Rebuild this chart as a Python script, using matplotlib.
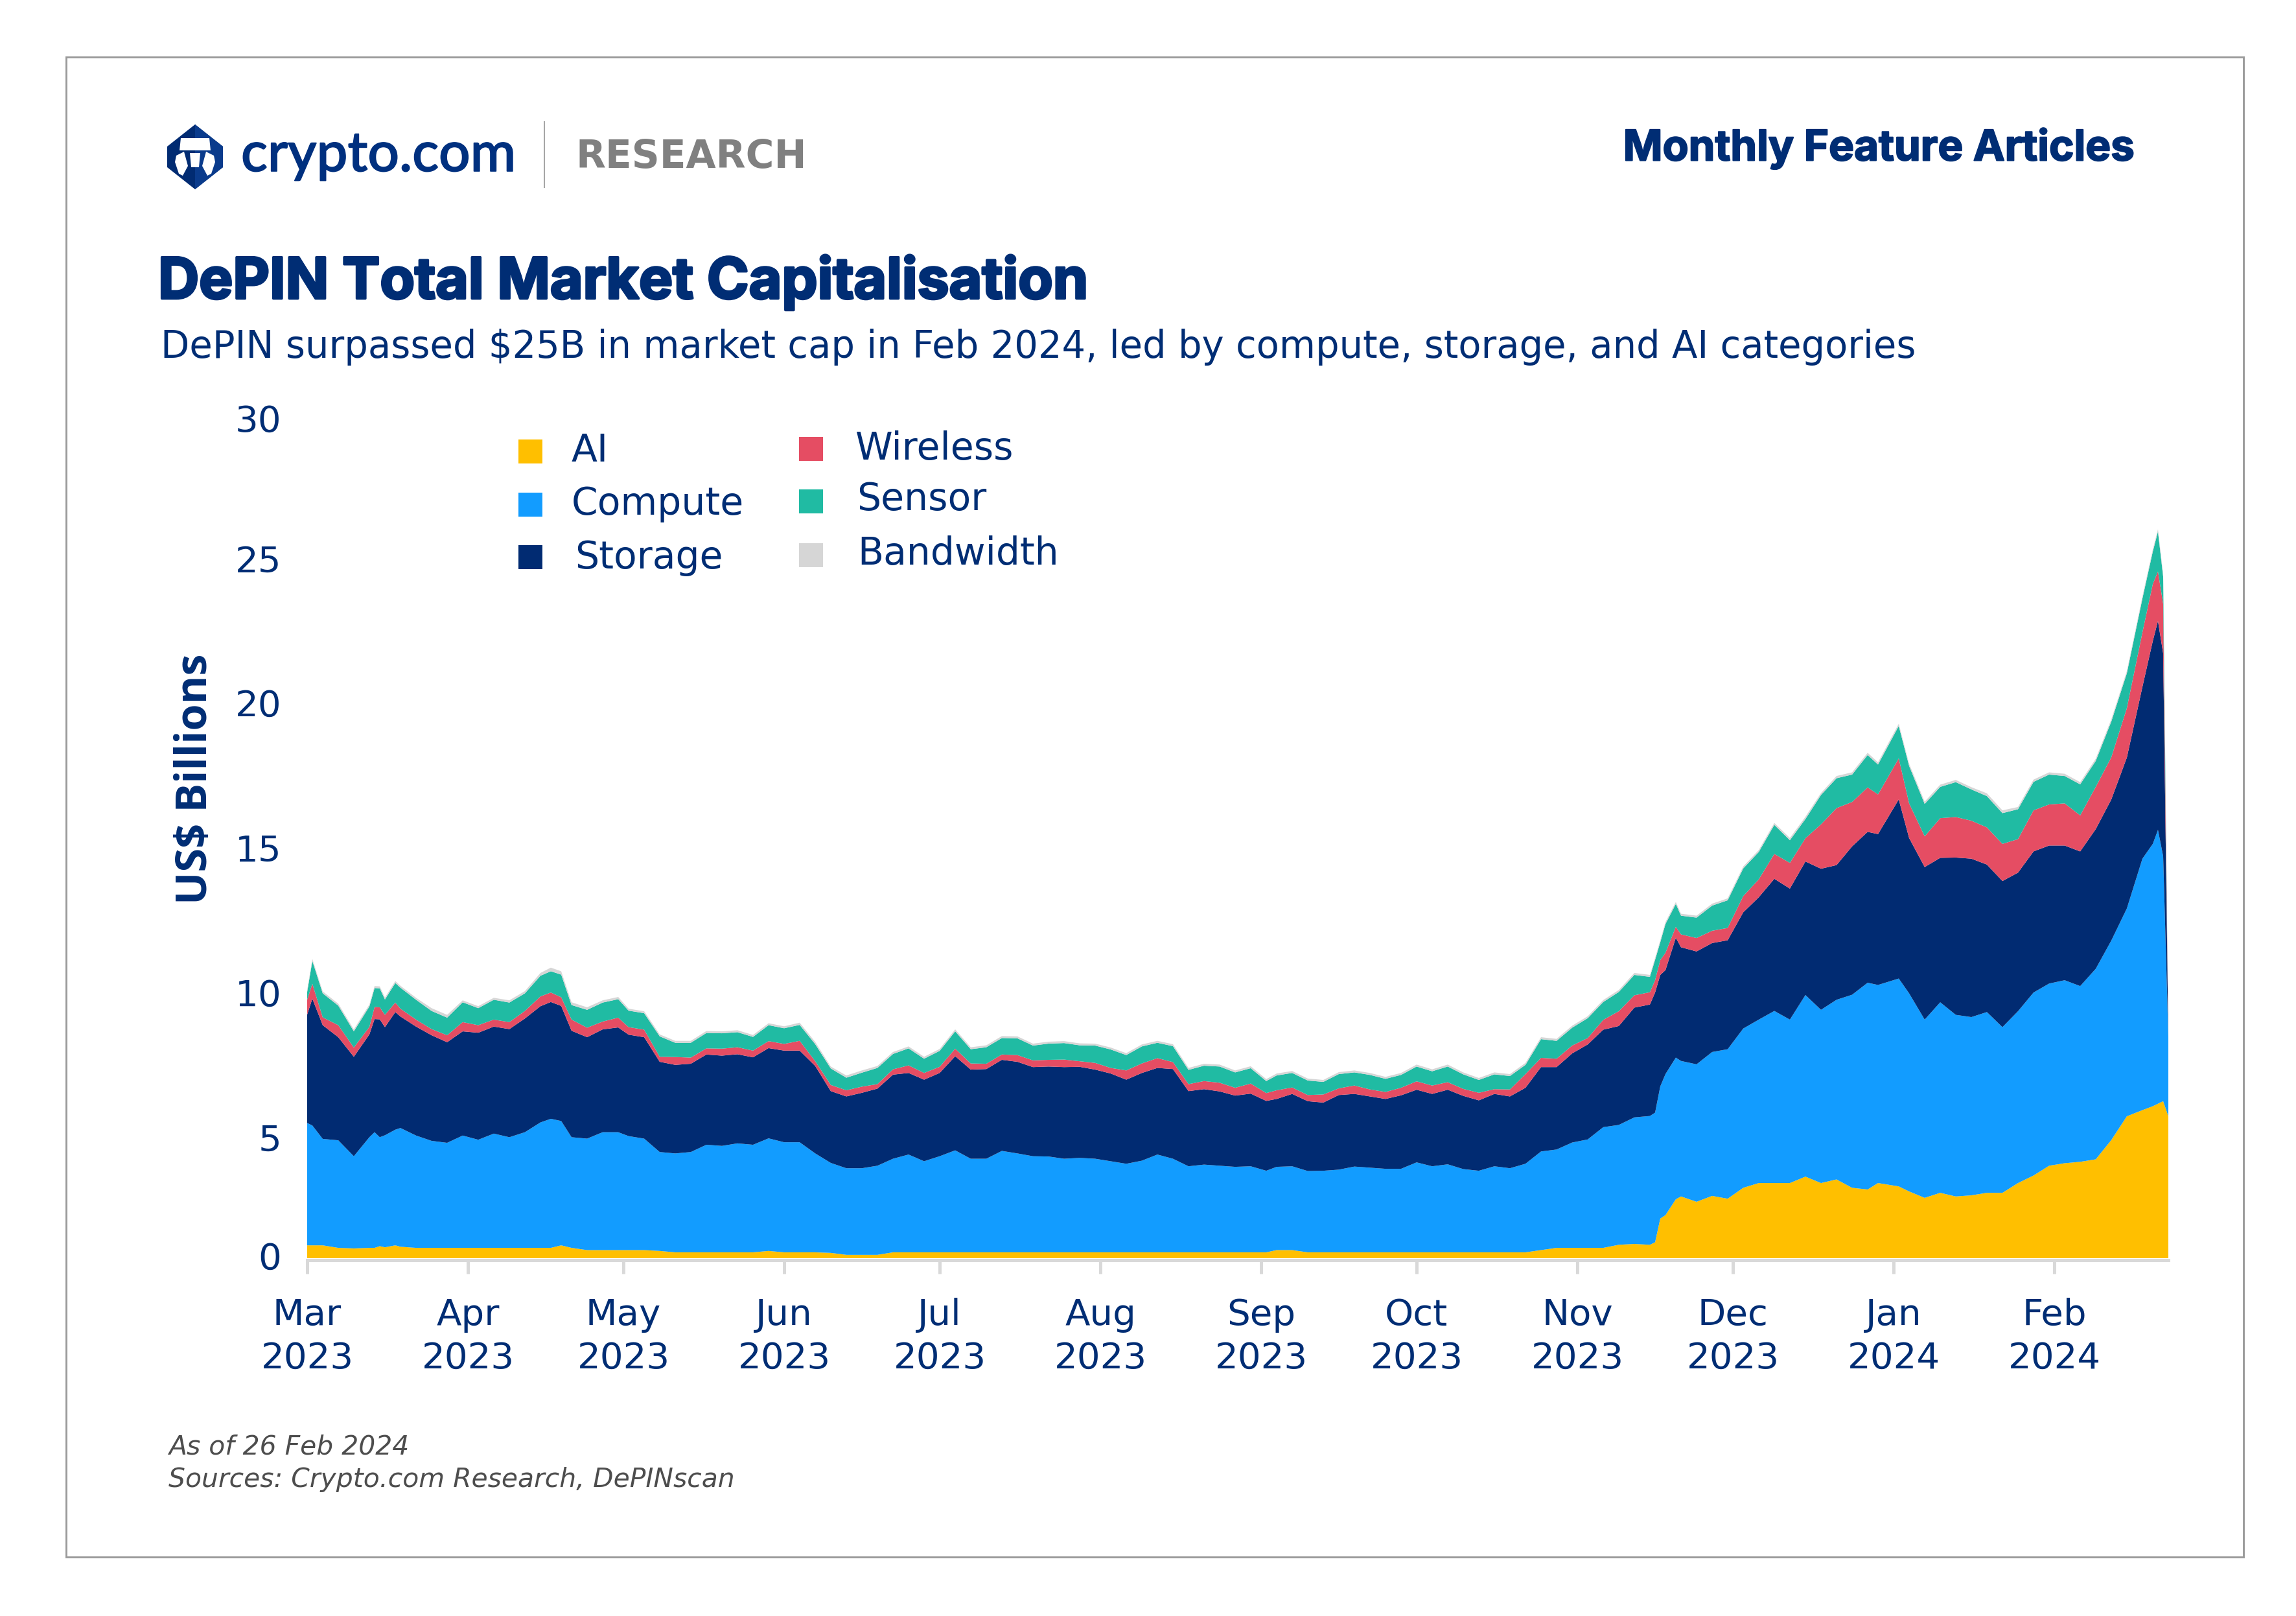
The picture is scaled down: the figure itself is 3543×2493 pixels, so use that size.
import pandas as pd
import matplotlib
matplotlib.use('Agg')
import matplotlib.pyplot as plt
from matplotlib.patches import Rectangle, Polygon
from matplotlib import patheffects

W, H = 3543, 2493
NAVY = '#002D74'

series_names = ['AI', 'Compute', 'Storage', 'Wireless', 'Sensor', 'Bandwidth']
series_colors = ['#FFBF00', '#129CFF', '#012B72', '#E54D63', '#20BBA3', '#D6D6D6']

# days since 1 Mar 2023
day_offset = [0, 1, 3, 6, 9, 12, 13, 14, 15, 17, 18, 21, 24, 27, 30, 33, 36, 39, 42, 45, 47, 49, 51, 54,
              57, 60, 62, 65, 68, 71, 74, 77, 80, 83, 86, 89, 92, 95, 98, 101, 104, 107, 110, 113,
              116, 119, 122, 125, 128, 131, 134, 137, 140, 143, 146, 149, 152, 155, 158, 161,
              164, 167, 170, 173, 176, 179, 182, 185, 187, 190, 193, 196, 199, 202, 205, 208,
              211, 214, 217, 220, 223, 226, 229, 232, 235, 238, 241, 244, 247, 250, 253, 256,
              259, 260, 261, 262, 264, 265, 268, 271, 274, 277, 280, 283, 286, 289, 292, 295, 298, 301, 303,
              307, 309, 312, 315, 318, 321, 324, 327, 330, 333, 336, 339, 342, 345, 348, 351,
              354, 356, 357, 358, 359]

ai = [.46, .46, .46, .37, .35, .37, .37, .43, .39, .46, .41, .37, .37, .37, .37, .37, .37, .37, .37, .37, .37, .46, .37, .29,
      .29, .29, .29, .29, .26, .21, .21, .21, .21, .21, .21, .26, .21, .21, .21, .19, .12, .12, .12, .21,
      .21, .21, .21, .21, .21, .21, .21, .21, .21, .21, .21, .21, .21, .21, .21, .21,
      .21, .21, .21, .21, .21, .21, .21, .21, .29, .29, .21, .21, .21, .21, .21, .21,
      .21, .21, .21, .21, .21, .21, .21, .21, .21, .29, .37, .37, .37, .37, .48, .51,
      .48, .57, 1.42, 1.54, 2.11, 2.21, 2.02, 2.23, 2.13, 2.52, 2.69, 2.69, 2.69, 2.92, 2.69, 2.82, 2.52, 2.46, 2.69,
      2.57, 2.39, 2.16, 2.34, 2.21, 2.25, 2.34, 2.34, 2.69, 2.96, 3.31, 3.40, 3.45, 3.54, 4.23, 5.08,
      5.30, 5.44, 5.53, 5.62, 5.08]
compute = [4.38, 4.29, 3.81, 3.85, 3.30, 3.96, 4.14, 3.90, 4.01, 4.14, 4.25, 4.02, 3.83, 3.76, 4.02, 3.87, 4.09, 3.96, 4.14, 4.49, 4.62, 4.45, 3.96, 3.99,
           4.22, 4.22, 4.08, 3.99, 3.54, 3.54, 3.59, 3.85, 3.81, 3.90, 3.85, 4.03, 3.94, 3.94, 3.54, 3.22, 3.10, 3.10, 3.19, 3.35,
           3.50, 3.26, 3.44, 3.65, 3.35, 3.35, 3.63, 3.54, 3.44, 3.43, 3.35, 3.38, 3.35, 3.26, 3.17, 3.28,
           3.50, 3.35, 3.08, 3.14, 3.10, 3.06, 3.08, 2.92, 2.98, 3.00, 2.91, 2.92, 2.96, 3.07, 3.03, 2.99,
           2.99, 3.22, 3.08, 3.15, 2.98, 2.92, 3.08, 3.01, 3.17, 3.53, 3.52, 3.77, 3.88, 4.32, 4.29, 4.53,
           4.61, 4.64, 4.73, 5.05, 5.07, 4.85, 4.92, 5.15, 5.35, 5.70, 5.85, 6.16, 5.85, 6.50, 6.20, 6.43, 6.91, 7.40, 7.09,
           7.44, 7.09, 6.38, 6.82, 6.50, 6.38, 6.47, 5.93, 6.15, 6.55, 6.52, 6.55, 6.29, 6.82, 7.14, 7.44,
           9.00, 9.39, 9.80, 8.77, 2.83]
storage = [3.88, 4.54, 4.07, 3.69, 3.56, 3.68, 4.05, 4.22, 3.87, 4.21, 3.99, 3.90, 3.78, 3.60, 3.73, 3.83, 3.83, 3.87, 4.07, 4.16, 4.18, 4.12, 3.81, 3.63,
           3.68, 3.75, 3.63, 3.63, 3.23, 3.17, 3.16, 3.23, 3.23, 3.19, 3.13, 3.23, 3.28, 3.28, 3.13, 2.57, 2.57, 2.70, 2.76, 3.01,
           2.92, 2.92, 2.98, 3.37, 3.19, 3.21, 3.26, 3.28, 3.19, 3.22, 3.28, 3.26, 3.19, 3.14, 3.01, 3.14,
           3.10, 3.21, 2.69, 2.70, 2.66, 2.55, 2.60, 2.50, 2.43, 2.59, 2.50, 2.44, 2.67, 2.60, 2.55, 2.50,
           2.63, 2.60, 2.59, 2.67, 2.62, 2.52, 2.59, 2.57, 2.72, 3.02, 2.95, 3.19, 3.40, 3.49, 3.54, 3.93,
           3.99, 4.30, 3.99, 3.72, 4.29, 4.07, 4.04, 3.90, 3.90, 4.16, 4.38, 4.73, 4.69, 4.78, 5.05, 4.82, 5.31, 5.40, 5.40,
           6.41, 5.56, 5.46, 5.17, 5.63, 5.67, 5.28, 5.23, 4.96, 5.05, 4.94, 4.82, 4.82, 5.00, 5.05, 5.40,
           6.15, 7.26, 7.48, 7.26, .02]
wireless = [.53, .53, .28, .43, .33, .27, .43, .43, .44, .34, .28, .25, .22, .25, .33, .27, .25, .25, .27, .35, .34, .31, .40, .34,
            .28, .35, .27, .27, .18, .28, .22, .22, .25, .25, .24, .25, .24, .35, .17, .22, .22, .22, .16, .19,
            .27, .24, .22, .27, .22, .19, .19, .24, .24, .24, .27, .20, .24, .20, .33, .34,
            .35, .25, .25, .29, .31, .28, .36, .28, .31, .23, .22, .29, .24, .30, .25, .25,
            .27, .30, .30, .27, .25, .27, .17, .25, .49, .33, .30, .28, .23, .35, .53, .44,
            .44, .44, .53, .62, .39, .46, .48, .44, .44, .58, .64, .89, .92, .83, 1.59, 2.04, 1.59, 1.59, 1.42,
            1.47, 1.24, 1.10, 1.42, 1.45, 1.36, 1.33, 1.33, 1.20, 1.47, 1.47, 1.51, 1.29, 1.51, 1.51, 1.77,
            1.95, 2.04, 1.77, 1.77, .01]
sensor = [.28, .82, .86, .70, .58, .73, .68, .68, .55, .70, .75, .71, .65, .63, .71, .61, .71, .70, .63, .74, .76, .81, .52, .64,
          .68, .66, .59, .59, .73, .51, .53, .55, .55, .54, .49, .57, .56, .57, .61, .59, .45, .50, .58, .55,
          .61, .51, .57, .62, .51, .59, .59, .60, .53, .58, .59, .57, .62, .66, .55, .61,
          .55, .57, .51, .55, .58, .55, .55, .43, .53, .52, .52, .45, .51, .47, .52, .47,
          .46, .53, .51, .56, .52, .46, .53, .48, .33, .67, .64, .64, .71, .64, .69, .73,
          .55, .73, .64, 1.03, .82, .67, .73, .90, .99, .99, .98, 1.04, .81, .69, 1.05, 1.07, .98, 1.16, 1.07,
          1.16, 1.34, 1.16, 1.12, 1.25, 1.12, 1.12, 1.10, 1.07, 1.02, 1.07, .98, 1.11, .93, 1.28, 1.25,
          1.21, 1.16, 1.43, .98, .01]
bandwidth = [.07, .07, .07, .07, .07, .07, .07, .07, .07, .07, .07, .07, .10, .10, .07, .07, .07, .08, .08, .10, .13, .12, .10, .09,
             .08, .08, .07, .07, .07, .07, .07, .07, .07, .07, .07, .07, .07, .08, .08, .07, .08, .08, .07, .07,
             .07, .07, .07, .07, .07, .07, .07, .07, .07, .07, .07, .07, .07, .07, .07, .07,
             .07, .07, .07, .07, .07, .07, .07, .07, .07, .07, .07, .07, .07, .07, .07, .07,
             .07, .07, .07, .07, .07, .07, .07, .07, .07, .07, .07, .07, .07, .07, .07, .07,
             .07, .07, .07, .07, .07, .07, .07, .07, .07, .07, .07, .07, .08, .08, .07, .08, .08, .08, .08,
             .08, .08, .08, .08, .08, .08, .10, .10, .08, .08, .08, .08, .08, .08, .08, .08,
             .08, .08, .08, .08, 0]

ytick_labels = ['0', '5', '10', '15', '20', '25', '30']
ytick_pos = [0.10, 4.31, 9.51, 14.7, 19.88, 25.04, 30.07]  # labels sit off the real gridline in the original

month_starts = pd.date_range('2023-03-01', '2024-02-01', freq='MS')
xtick_labels = [d.strftime('%b\n%Y') for d in month_starts]

plt.rcParams['font.family'] = ['DejaVu Sans']


def fx(x):
    return x / W


def fy(y):
    return 1 - y / H


def put_text(x, y, s, **kw):
    kw.setdefault('color', NAVY)
    kw.setdefault('va', 'center')
    return fig.text(fx(x), fy(y), s, **kw)


def put_box(x0, y0, x1, y1, **kw):
    kw.setdefault('linewidth', 0)
    fig.add_artist(Rectangle((fx(x0), fy(y1)), fx(x1 - x0), (y1 - y0) / H,
                             transform=fig.transFigure, **kw))


def put_poly(points, **kw):
    pts = [(fx(a), fy(b)) for a, b in points]
    fig.add_artist(Polygon(pts, closed=True, transform=fig.transFigure, linewidth=0, **kw))


def fatten(txt, width, color=NAVY):
    txt.set_path_effects([patheffects.withStroke(linewidth=width, foreground=color)])


fig = plt.figure(figsize=(W / 300, H / 300), dpi=300, facecolor='white')

# outer frame
put_box(102, 88, 3462, 2402, facecolor='none', edgecolor='#9A9A9A', linewidth=0.7)

# chart
ax_bottom, ax_top = 1943.5, 645
ax = fig.add_axes([fx(474), fy(ax_bottom), (3346 - 474) / W, (ax_bottom - ax_top) / H])
dates = pd.Timestamp('2023-03-01') + pd.to_timedelta(day_offset, unit='D')
ax.stackplot(dates, ai, compute, storage, wireless, sensor, bandwidth,
             colors=series_colors, linewidth=0)
ax.set_xlim(dates[0], dates[-1])
ax.set_ylim(-2.5 / 43.2, 30)
for side in ['top', 'left', 'right']:
    ax.spines[side].set_visible(False)
ax.spines['bottom'].set_color('#D9D9D9')
ax.spines['bottom'].set_linewidth(1.2)
ax.patch.set_alpha(0)
ax.set_xticks(month_starts)
ax.set_xticklabels([])
ax.tick_params(axis='x', color='#D9D9D9', width=1.2, length=5)
ax.set_yticks(ytick_pos)
ax.set_yticklabels(ytick_labels, fontsize=13.5, color=NAVY)
ax.tick_params(axis='y', length=0, pad=9.5)

for d, label in zip(month_starts, xtick_labels):
    ax.annotate(label, (d, 0), xycoords=('data', 'axes fraction'), xytext=(0, -14),
                textcoords='offset points', ha='center', va='top', fontsize=13.5,
                color=NAVY, linespacing=1.32)

put_text(302, 1202, 'US$ Billions', rotation=90, ha='center', fontsize=16, fontfamily='Open Sans', fontweight='bold')

# legend
legend_left = [(800, 678, 882, 696), (800, 760, 882, 778), (800, 841, 887, 861)]
legend_right = [(1233, 674, 1319, 692), (1233, 755, 1322, 771), (1233, 838, 1323, 855)]
for name, color, (bx, by, tx, ty) in zip(series_names, series_colors, legend_left + legend_right):
    put_box(bx, by, bx + 37, by + 37, facecolor=color)
    put_text(tx, ty, name, fontsize=14)

# header
put_poly([(301, 192), (344, 226), (344, 258), (301, 292), (258, 258), (258, 226)], facecolor='#012B72')
put_poly([(301, 192), (344, 226), (344, 258), (301, 292)], facecolor='#0A3B8C')
put_poly([(279, 213), (323, 213), (325, 232), (277, 232)], facecolor='white')
put_poly([(272, 240), (284, 234), (290, 256), (282, 271), (276, 268), (270, 250)], facecolor='white')
put_poly([(330, 240), (318, 234), (312, 256), (320, 271), (326, 268), (332, 250)], facecolor='white')
put_poly([(293, 236), (309, 236), (307, 258), (295, 258)], facecolor='white')
logo = put_text(372, 240, 'crypto.com', fontsize=20.5, fontfamily='Lato', fontweight='medium', color='#00307F')
fatten(logo, 0.4, '#00307F')
put_box(839, 187, 841, 290, facecolor='#A6A6A6')
put_text(888, 243, 'RESEARCH', fontsize=14.3, fontweight='bold', color='#808080')
fatten(put_text(3293, 229, 'Monthly Feature Articles', ha='right', fontsize=15.7,
                fontfamily='Inter', fontweight='bold'), 0.5)
fatten(put_text(244, 436, 'DePIN Total Market Capitalisation', fontsize=21,
                fontfamily='Inter', fontweight='bold'), 0.9)
put_text(248, 536, 'DePIN surpassed $25B in market cap in Feb 2024, led by compute, storage, and AI categories',
         fontsize=13.85)

# footnote
put_text(260, 2232, 'As of 26 Feb 2024', fontsize=9.8, style='italic', color='#4D4D4D')
put_text(260, 2282, 'Sources: Crypto.com Research, DePINscan', fontsize=9.8, style='italic', color='#4D4D4D')

fig.savefig('out.png', dpi=300, facecolor='white')
